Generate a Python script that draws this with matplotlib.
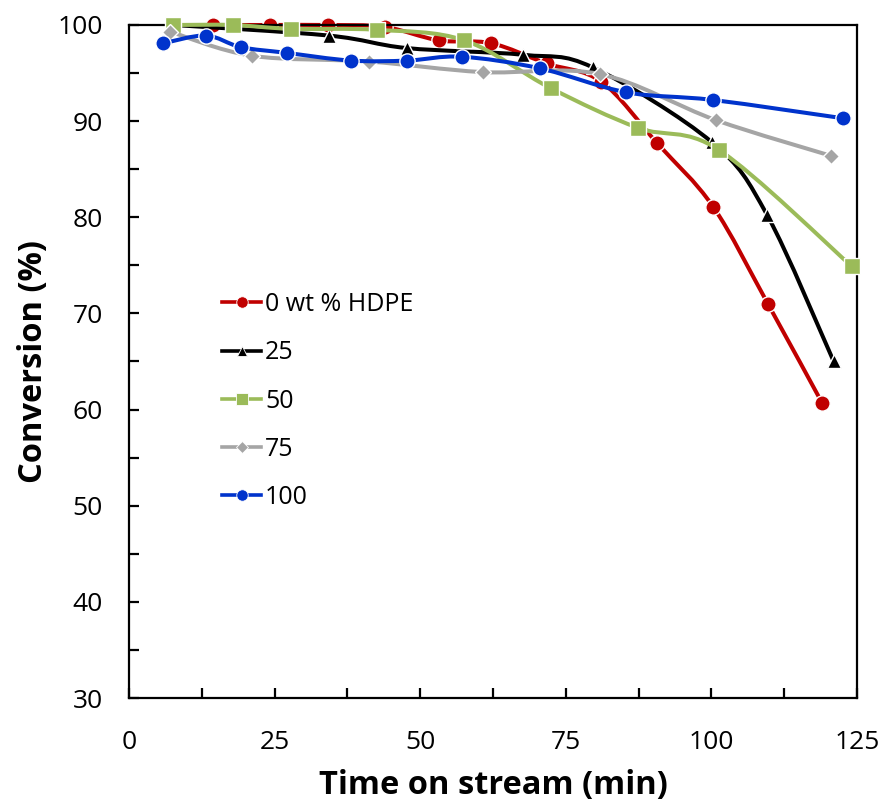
import matplotlib
matplotlib.use("Agg")
import matplotlib.pyplot as plt
import numpy as np
from matplotlib.path import Path
from matplotlib.patches import PathPatch
from matplotlib.lines import Line2D
from matplotlib.ticker import MultipleLocator

plt.rcParams['font.family'] = ['Open Sans', 'DejaVu Sans']

# time on stream (min) and conversion (%) for each HDPE loading
t_0 = [14.4, 24.2, 34.1, 43.9, 53.2, 62.2, 71.7, 81.1, 90.7, 100.3, 109.7, 119.0]
c_0 = [100.0, 100.0, 100.0, 99.8, 98.4, 98.1, 96.0, 94.1, 87.7, 81.1, 71.0, 60.7]

t_25 = [7.7, 34.3, 47.7, 67.7, 79.6, 100.1, 109.6, 121.0]
c_25 = [100.0, 98.9, 97.6, 96.9, 95.6, 87.8, 80.2, 65.0]

t_50 = [7.6, 17.8, 27.8, 42.5, 57.6, 72.5, 87.4, 101.3, 124.1]
c_50 = [100.0, 100.0, 99.6, 99.5, 98.4, 93.4, 89.3, 87.0, 74.9]

t_75 = [7.1, 21.1, 41.2, 60.7, 80.8, 100.8, 120.5]
c_75 = [99.3, 96.8, 96.2, 95.1, 94.9, 90.1, 86.4]

t_100 = [5.9, 13.2, 19.2, 27.1, 38.1, 47.8, 57.1, 70.5, 85.4, 100.3, 122.6]
c_100 = [98.1, 98.9, 97.7, 97.1, 96.3, 96.3, 96.7, 95.5, 93.0, 92.2, 90.3]

labels = ['0 wt % HDPE', '25', '50', '75', '100']
colors = ['#C00000', '#000000', '#9BBB59', '#A5A5A5', '#0033CC']
markers = ['o', '^', 's', 'D', 'o']
msizes = [11, 10.5, 11.5, 7.8, 11]


def smooth_path(x, y, sx=125.0, sy=70.0):
    """Excel-like smoothed line: cubic Bezier segments through the points."""
    p = np.column_stack([np.asarray(x) / sx, np.asarray(y) / sy])
    n = len(p)
    verts = [p[0]]
    codes = [Path.MOVETO]
    for i in range(n - 1):
        p0 = p[i - 1] if i > 0 else p[i]
        p3 = p[i + 2] if i + 2 < n else p[i + 1]
        c1 = p[i] + (p[i + 1] - p0) / 6.0
        c2 = p[i + 1] - (p3 - p[i]) / 6.0
        verts += [c1, c2, p[i + 1]]
        codes += [Path.CURVE4] * 3
    verts = np.array(verts) * [sx, sy]
    return Path(verts, codes)


fig = plt.figure(figsize=(8.84, 8.01), dpi=100)
ax = fig.add_axes([129 / 884, 1 - 698 / 801, 728 / 884, 673 / 801])

series = [(t_0, c_0), (t_25, c_25), (t_50, c_50), (t_75, c_75), (t_100, c_100)]
for k, (t, c) in enumerate(series):
    patch = PathPatch(smooth_path(t, c), facecolor='none', edgecolor=colors[k],
                      lw=2.9, capstyle='round', joinstyle='round',
                      zorder=2 + k, clip_on=False)
    ax.add_patch(patch)
    ax.plot(t, c, linestyle='none', marker=markers[k], ms=msizes[k],
            mfc=colors[k], mec='white', mew=1.0, zorder=2 + k, clip_on=False)

ax.set_xlim(0, 125)
ax.set_ylim(30, 100)
ax.xaxis.set_major_locator(MultipleLocator(25))
ax.xaxis.set_minor_locator(MultipleLocator(12.5))
ax.yaxis.set_major_locator(MultipleLocator(10))
ax.yaxis.set_minor_locator(MultipleLocator(5))
ax.tick_params(which='both', direction='in', length=7, width=1.6,
               top=False, right=False)
ax.tick_params(axis='x', which='major', labelsize=19, pad=23)
ax.tick_params(axis='y', which='major', labelsize=19, pad=19)
for s in ax.spines.values():
    s.set_linewidth(1.6)

ax.set_xlabel('Time on stream (min)', fontsize=23.5, fontweight='bold')
ax.set_ylabel('Conversion (%)', fontsize=23.5, fontweight='bold')
ax.xaxis.set_label_coords(0.5, -0.105)
ax.yaxis.set_label_coords(-0.109, 0.5)

handles = [Line2D([], [], color=colors[k], lw=2.6, marker=markers[k],
                  ms=msizes[k] * 0.75, mfc=colors[k], mec='white', mew=0.6)
           for k in range(5)]
ax.legend(handles, labels, loc='upper left', bbox_to_anchor=(0.128, 0.603),
          frameon=False, fontsize=18, handlelength=1.56, handletextpad=0.16,
          labelspacing=0.93, borderpad=0, borderaxespad=0)

fig.savefig('out.png', dpi=100)
